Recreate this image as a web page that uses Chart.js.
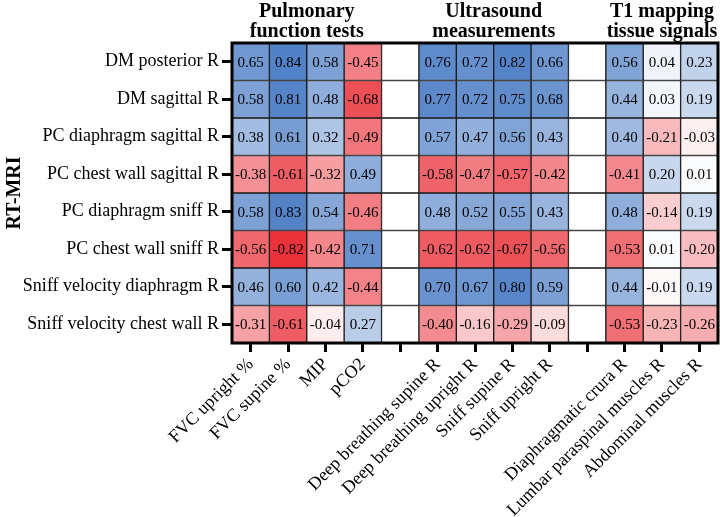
<!DOCTYPE html>
<html>
<head>
<meta charset="utf-8">
<script src="https://cdn.jsdelivr.net/npm/chart.js@4.4.1/dist/chart.umd.min.js"></script>
<style>
  body { margin: 0; background: #fff; }
  canvas { display: block; }
</style>
</head>
<body>
<canvas id="mycanvas" width="720" height="517"></canvas>
<script>
var rowLabels = ['DM posterior R', 'DM sagittal R', 'PC diaphragm sagittal R', 'PC chest wall sagittal R',
  'PC diaphragm sniff R', 'PC chest wall sniff R', 'Sniff velocity diaphragm R', 'Sniff velocity chest wall R'];

var pulmonaryCols = ['FVC upright %', 'FVC supine %', 'MIP', 'pCO2'];
var ultrasoundCols = ['Deep breathing supine R', 'Deep breathing upright R', 'Sniff supine R', 'Sniff upright R'];
var t1Cols = ['Diaphragmatic crura R', 'Lumbar paraspinal muscles R', 'Abdominal muscles R'];

var groupTitles = [['Pulmonary', 'function tests'], ['Ultrasound', 'measurements'], ['T1 mapping', 'tissue signals']];

var pulmonary = [
  [0.65, 0.84, 0.58, -0.45],
  [0.58, 0.81, 0.48, -0.68],
  [0.38, 0.61, 0.32, -0.49],
  [-0.38, -0.61, -0.32, 0.49],
  [0.58, 0.83, 0.54, -0.46],
  [-0.56, -0.82, -0.42, 0.71],
  [0.46, 0.60, 0.42, -0.44],
  [-0.31, -0.61, -0.04, 0.27]
];
var ultrasound = [
  [0.76, 0.72, 0.82, 0.66],
  [0.77, 0.72, 0.75, 0.68],
  [0.57, 0.47, 0.56, 0.43],
  [-0.58, -0.47, -0.57, -0.42],
  [0.48, 0.52, 0.55, 0.43],
  [-0.62, -0.62, -0.67, -0.56],
  [0.70, 0.67, 0.80, 0.59],
  [-0.40, -0.16, -0.29, -0.09]
];
var t1 = [
  [0.56, 0.04, 0.23],
  [0.44, 0.03, 0.19],
  [0.40, -0.21, -0.03],
  [-0.41, 0.20, 0.01],
  [0.48, -0.14, 0.19],
  [-0.53, 0.01, -0.20],
  [0.44, -0.01, 0.19],
  [-0.53, -0.23, -0.26]
];

// columns with empty spacer columns between groups
var colLabels = pulmonaryCols.concat([''], ultrasoundCols, [''], t1Cols);
var matrix = rowLabels.map(function(r, i) {
  return pulmonary[i].concat([null], ultrasound[i], [null], t1[i]);
});

function cellColor(v) {
  if (v === null) return '#ffffff';
  var t = Math.pow(Math.min(Math.abs(v), 1), 0.8);
  var end = v >= 0 ? [55, 110, 190] : [230, 15, 25];
  var c = end.map(function(e) { return Math.round(255 - t * (255 - e)); });
  return 'rgb(' + c.join(',') + ')';
}

var serif = '"Liberation Serif", "Times New Roman", serif';

var datasets = rowLabels.map(function(r, i) {
  return {
    label: r,
    data: colLabels.map(function() { return [i, i + 1]; }),
    backgroundColor: matrix[i].map(cellColor),
    borderColor: '#1a1a1a',
    borderWidth: 1,
    borderSkipped: false,
    barPercentage: 1,
    categoryPercentage: 1,
    grouped: false
  };
});

var cellText = {
  id: 'cellText',
  afterDatasetsDraw: function(chart) {
    var ctx = chart.ctx;
    ctx.save();
    ctx.fillStyle = '#000';
    ctx.font = '15px ' + serif;
    ctx.textAlign = 'center';
    ctx.textBaseline = 'middle';
    chart.data.datasets.forEach(function(ds, i) {
      chart.getDatasetMeta(i).data.forEach(function(bar, j) {
        var v = matrix[i][j];
        if (v === null) return;
        ctx.fillText(v.toFixed(2), bar.x, (bar.y + bar.base) / 2 + 1);
      });
    });
    // frame
    var a = chart.chartArea;
    ctx.lineWidth = 3;
    ctx.strokeStyle = '#000';
    ctx.strokeRect(a.left, a.top, a.right - a.left, a.bottom - a.top);

    // group titles
    var xs = chart.scales.x;
    var spans = [[0, 3], [5, 8], [10, 12]];
    ctx.font = 'bold 20px ' + serif;
    spans.forEach(function(s, k) {
      var cx = (xs.getPixelForValue(s[0]) + xs.getPixelForValue(s[1])) / 2;
      ctx.fillText(groupTitles[k][0], cx, 12);
      ctx.fillText(groupTitles[k][1], cx, 32);
    });
    ctx.restore();
  }
};

var ctx = document.getElementById('mycanvas');
var heatmap = new Chart(ctx, {
  type: 'bar',
  data: { labels: colLabels, datasets: datasets },
  options: {
    responsive: false,
    animation: false,
    layout: { padding: { top: 43, right: 2, left: 0, bottom: 0 } },
    plugins: { legend: { display: false }, tooltip: { enabled: false } },
    scales: {
      x: {
        offset: true,
        border: { display: false },
        grid: { offset: false, drawOnChartArea: false, drawTicks: true, tickLength: 9, tickWidth: 3, tickColor: '#000' },
        ticks: { autoSkip: false, minRotation: 45, maxRotation: 45, color: '#000', padding: 2, font: { family: serif, size: 18 } },
        afterFit: function(scale) { scale.height = 174; }
      },
      y: {
        min: 0,
        max: 8,
        reverse: true,
        border: { display: false },
        afterBuildTicks: function(scale) {
          scale.ticks = rowLabels.map(function(r, i) { return { value: i + 0.5 }; });
        },
        grid: { drawOnChartArea: false, drawTicks: true, tickLength: 10, tickWidth: 3, tickColor: '#000' },
        ticks: {
          autoSkip: false,
          color: '#000',
          padding: 3,
          font: { family: serif, size: 18 },
          callback: function(v, idx) { return rowLabels[idx]; }
        },
        title: { display: true, text: 'RT-MRI', color: '#000', padding: { top: 3, bottom: 0 }, font: { family: serif, size: 20, weight: 'bold' } },
        afterFit: function(scale) { scale.width = 232; }
      }
    }
  },
  plugins: [cellText]
});
</script>
</body>
</html>
